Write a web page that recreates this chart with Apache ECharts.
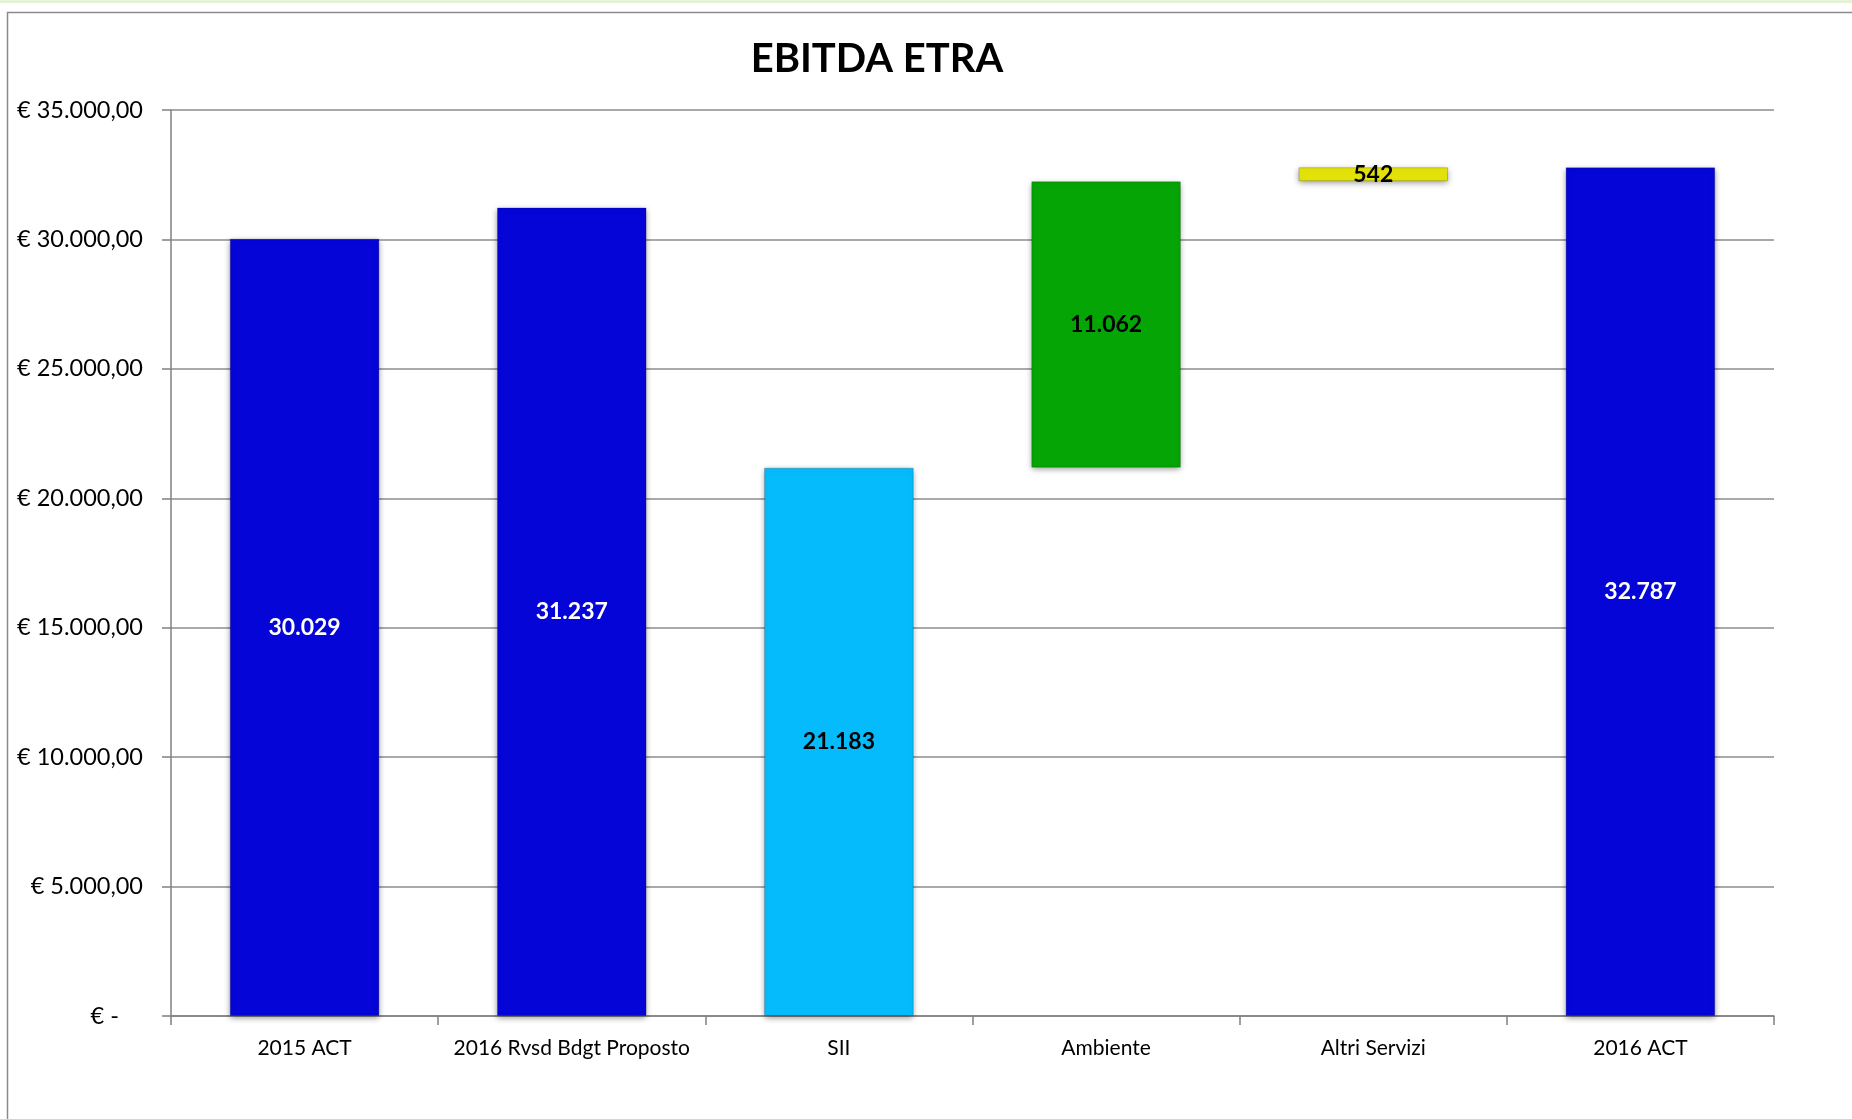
<!DOCTYPE html>
<html>
<head>
<meta charset="utf-8">
<script src="https://cdn.jsdelivr.net/npm/echarts@6/dist/echarts.min.js"></script>
<style>
  html, body { margin: 0; padding: 0; background: #fff; }
  #chart { width: 1852px; height: 1119px; }
</style>
</head>
<body>
<div id="chart"></div>
<script>
const categories = ['2015 ACT', '2016 Rvsd Bdgt Proposto', 'SII', 'Ambiente', 'Altri Servizi', '2016 ACT'];
// visible bar heights
const values = [30029, 31237, 21183, 11062, 542, 32787];
// invisible base under the floating bars (SII + Ambiente stack up)
const bases = [0, 0, 0, 21183, 32245, 0];
const colors = ['#0505d8', '#0505d8', '#05bbfb', '#05a505', '#e3e30a', '#0505d8'];
const labelColors = ['#fff', '#fff', '#000', '#000', '#000', '#fff'];
const yTicks = { min: 0, max: 35000, interval: 5000 };

function fmtInt(v) {
  return String(Math.round(v)).replace(/\B(?=(\d{3})+(?!\d))/g, '.');
}
function fmtEuro(v) {
  if (v === 0) return '€ -    ';
  return '€ ' + fmtInt(v) + ',00';
}

const chartDom = document.getElementById('chart');
const myChart = echarts.init(chartDom);
const font = 'Lato, "Open Sans", sans-serif';

const option = {
  animation: false,
  textStyle: { fontFamily: font },
  title: {
    text: 'EBITDA ETRA',
    left: 872,
    top: 34,
    textAlign: 'center',
    textStyle: { fontSize: 40, fontWeight: 'bold', color: '#000', fontFamily: font }
  },
  graphic: [
    {
      type: 'rect',
      shape: { x: 7.5, y: 12.5, width: 1900, height: 1200 },
      style: { fill: 'none', stroke: '#8a8a8a', lineWidth: 1.5 },
      silent: true
    },
    {
      type: 'rect',
      shape: { x: 0, y: 0, width: 1852, height: 3 },
      style: { fill: '#e4f2d8' },
      silent: true
    }
  ],
  grid: { left: 171, right: 78, top: 110, bottom: 103 },
  xAxis: {
    type: 'category',
    data: categories,
    axisLine: { lineStyle: { color: '#808080', width: 1.5 } },
    axisTick: { show: true, length: 9, lineStyle: { color: '#808080', width: 1.5 } },
    axisLabel: { color: '#000', fontSize: 21, margin: 22, interval: 0, fontFamily: font }
  },
  yAxis: {
    type: 'value',
    min: yTicks.min,
    max: yTicks.max,
    interval: yTicks.interval,
    axisLine: { show: true, lineStyle: { color: '#808080', width: 1.5 } },
    axisTick: { show: true, length: 9, lineStyle: { color: '#808080', width: 1.5 } },
    splitLine: { lineStyle: { color: '#8c8c8c', width: 1.5 } },
    axisLabel: { color: '#000', fontSize: 23.5, margin: 28, formatter: fmtEuro, fontFamily: font }
  },
  series: [
    {
      name: 'base',
      type: 'bar',
      stack: 'wf',
      silent: true,
      barCategoryGap: '44%',
      itemStyle: { color: 'transparent' },
      data: bases
    },
    {
      name: 'EBITDA',
      type: 'bar',
      stack: 'wf',
      barCategoryGap: '44%',
      data: values.map((v, i) => ({
        value: v,
        itemStyle: {
          color: colors[i],
          borderColor: 'rgba(0,0,0,0.2)',
          borderWidth: 1,
          shadowColor: 'rgba(0,0,0,0.4)',
          shadowBlur: 6,
          shadowOffsetY: 2
        },
        label: { color: labelColors[i] }
      })),
      label: {
        show: true,
        position: 'inside',
        fontSize: 23,
        fontWeight: 'bold',
        fontFamily: font,
        formatter: p => fmtInt(p.value)
      }
    }
  ]
};

option && myChart.setOption(option);
</script>
</body>
</html>
